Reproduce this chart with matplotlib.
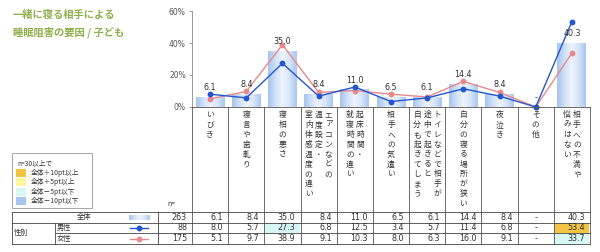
import matplotlib
matplotlib.use("Agg")
import matplotlib.pyplot as plt
import numpy as np
from matplotlib.patches import Rectangle
from matplotlib.colors import LinearSegmentedColormap

plt.rcParams['font.family'] = ['Noto Sans CJK JP', 'DejaVu Sans']

# ---------------- data ----------------
categories = [
    ["いびき"],
    ["寝言や歯軋り"],
    ["寝相の悪さ"],
    ["エアコンなどの", "温度設定・", "室内体感温度の違い"],
    ["起床時間・", "就寝時間の違い"],
    ["相手への気遣い"],
    ["トイレなどで相手が", "途中で起きると", "自分も起きてしまう"],
    ["自分の寝る場所が狭い"],
    ["夜泣き"],
    ["その他"],
    ["相手への不満や", "悩みはない"],
]
total = [6.1, 8.4, 35.0, 8.4, 11.0, 6.5, 6.1, 14.4, 8.4, None, 40.3]
male = [8.0, 5.7, 27.3, 6.8, 12.5, 3.4, 5.7, 11.4, 6.8, None, 53.4]
female = [5.1, 9.7, 38.9, 9.1, 10.3, 8.0, 6.3, 16.0, 9.1, None, 33.7]
n_total, n_male, n_female = 263, 88, 175
yticks = [0, 20, 40, 60]
title_lines = ["一緒に寝る相手による", "睡眠阻害の要因 / 子ども"]
legend_title = "n=30以上で"
legend_items = ["全体＋10pt以上", "全体＋5pt以上", "全体－5pt以下", "全体－10pt以下"]
legend_colors = ["#f3c443", "#fff59b", "#d6f7f4", "#a9c5ef"]

def num(v):
    return 0.0 if v is None else v

def fmt(v):
    return "-" if v is None else f"{v:.1f}"

# ---------------- layout (pixels) ----------------
W, H = 600, 252
X0, X1 = 192, 590
Y0, YTOP = 107, 11
ncat = len(categories)
cw = (X1 - X0) / ncat

fig = plt.figure(figsize=(6, 2.52), dpi=100)
fig.patch.set_facecolor("white")

ax = fig.add_axes([X0 / W, 1 - Y0 / H, (X1 - X0) / W, (Y0 - YTOP) / H])
ax.set_xlim(-0.5, ncat - 0.5)
ax.set_ylim(0, 60)
for s in ["top", "right", "bottom"]:
    ax.spines[s].set_visible(False)
ax.spines["left"].set_color("#888888")
ax.spines["left"].set_linewidth(0.6)
ax.set_xticks([])
ax.set_yticks(yticks)
ax.set_yticklabels([f"{t}%" for t in yticks], fontsize=5.5, color="#555555",
                   family=['DejaVu Sans'])
ax.tick_params(axis="y", length=2.5, width=0.6, color="#888888", pad=2)
ax.patch.set_alpha(0)

x = np.arange(ncat)
tv = [num(v) for v in total]
bars = ax.bar(x, tv, width=0.8, color="none", edgecolor="none", zorder=1)
cmap = LinearSegmentedColormap.from_list(
    "bar", ["#a6c4ee", "#cfe0f8", "#eef4fd", "#d6e5f9", "#a9c7f0"])
grad = np.linspace(0, 1, 64).reshape(1, -1)
for b in bars:
    if b.get_height() <= 0:
        continue
    bx, by = b.get_x(), b.get_y()
    im = ax.imshow(grad, cmap=cmap, aspect="auto",
                   extent=[bx, bx + b.get_width(), by, by + b.get_height()],
                   zorder=1)
    im.set_clip_path(b)
ax.set_xlim(-0.5, ncat - 0.5)
ax.set_ylim(0, 60)

for i, v in enumerate(total):
    ax.annotate(fmt(v), (i, num(v)), xytext=(0, 3.5), textcoords="offset points",
                ha="center", va="bottom", fontsize=5.8, color="#333333",
                family=['DejaVu Sans'], zorder=5)

ax.plot(x, [num(v) for v in female], color="#e8898c", lw=1.0, marker="o",
        ms=3.2, zorder=3, clip_on=False)
ax.plot(x, [num(v) for v in male], color="#2456d0", lw=1.0, marker="o",
        ms=3.2, zorder=4, clip_on=False)

# ---------------- overlay for titles / labels / table ----------------
ov = fig.add_axes([0, 0, 1, 1])
ov.set_xlim(0, W)
ov.set_ylim(H, 0)
ov.axis("off")
ov.patch.set_alpha(0)

title_color = "#8fae4c"
ov.text(13, 15, title_lines[0], fontsize=7.4, color=title_color,
        fontweight="bold", va="center", ha="left")
ov.text(13, 32, title_lines[1], fontsize=7.4, color=title_color,
        fontweight="bold", va="center", ha="left")

lc = "#555555"
lw = 0.6
# category cells
ov.plot([X0, X1], [Y0, Y0], color=lc, lw=lw)
TT, R1, R2, TB = 212, 222.5, 233.3, 244
for k in range(ncat + 1):
    xx = X0 + k * cw
    ov.plot([xx, xx], [Y0, TB], color=lc, lw=lw)

# vertical labels
for i, cols in enumerate(categories):
    cx = X0 + (i + 0.5) * cw
    nc = len(cols)
    for j, col in enumerate(cols):
        xx = cx + (nc - 1) / 2 * 10 - j * 10
        for k, ch in enumerate(col):
            ov.text(xx, 115 + k * 9.9, ch, fontsize=5.6, color="#333333",
                    ha="center", va="center")

# legend box
ov.add_patch(Rectangle((12, 153), 80, 55, fill=False, edgecolor="#999999", lw=0.6))
ov.text(17, 163, legend_title, fontsize=4.8, color="#333333", va="center")
for k, (lab, c) in enumerate(zip(legend_items, legend_colors)):
    yy = 173 + k * 9.3
    ov.add_patch(Rectangle((16, yy - 4), 10, 8, color=c, lw=0))
    ov.text(31, yy, lab, fontsize=4.9, color="#333333", va="center")

# table
ov.text(171, 204, "n=", fontsize=5, color="#333333", ha="center", va="center")
for yy, xa in [(TT, 12), (R1, 12), (R2, 55), (TB, 12)]:
    ov.plot([xa, X1], [yy, yy], color="#444444", lw=lw)
ov.plot([12, 12], [TT, TB], color="#444444", lw=lw)
ov.plot([55, 55], [R1, TB], color="#444444", lw=lw)
ov.plot([157.5, 157.5], [TT, TB], color="#444444", lw=lw)

rows = [(TT, R1, total, n_total), (R1, R2, male, n_male), (R2, TB, female, n_female)]
# highlight cells
for (ya, yb, vals, _) in rows[1:]:
    for i, v in enumerate(vals):
        if v is None or total[i] is None:
            continue
        d = v - total[i]
        c = None
        if d >= 10:
            c = legend_colors[0]
        elif d >= 5:
            c = legend_colors[1]
        elif d <= -10:
            c = legend_colors[3]
        elif d <= -5:
            c = legend_colors[2]
        if c:
            ov.add_patch(Rectangle((X0 + i * cw + 0.5, ya + 0.5), cw - 1, yb - ya - 1,
                                   color=c, lw=0, zorder=0))

for (ya, yb, vals, n) in rows:
    ym = (ya + yb) / 2
    ov.text(X0 - 5, ym, str(n), fontsize=5.8, color="#333333", ha="right",
            va="center", family=['DejaVu Sans'])
    for i, v in enumerate(vals):
        if v is None:
            ov.text(X0 + (i + 0.5) * cw, ym, "-", fontsize=5.8, color="#333333",
                    ha="center", va="center", family=['DejaVu Sans'])
        else:
            ov.text(X0 + (i + 1) * cw - 5, ym, fmt(v), fontsize=5.8, color="#333333",
                    ha="right", va="center", family=['DejaVu Sans'])

ov.text(84, (TT + R1) / 2, "全体", fontsize=5.2, color="#333333", ha="center", va="center")
ov.text(14, (R1 + TB) / 2, "性別", fontsize=5.2, color="#333333", ha="left", va="center")
ov.text(57, (R1 + R2) / 2, "男性", fontsize=5.2, color="#333333", ha="left", va="center")
ov.text(57, (R2 + TB) / 2, "女性", fontsize=5.2, color="#333333", ha="left", va="center")

# row swatches
ov.imshow(grad, cmap=cmap, aspect="auto", extent=[129, 150, 220, 215], zorder=2)
ov.plot([130, 148], [(R1 + R2) / 2] * 2, color="#2456d0", lw=1.0, marker=None)
ov.plot([139], [(R1 + R2) / 2], color="#2456d0", marker="o", ms=3.2)
ov.plot([130, 148], [(R2 + TB) / 2] * 2, color="#e8898c", lw=1.0)
ov.plot([139], [(R2 + TB) / 2], color="#e8898c", marker="o", ms=3.2)
ov.set_xlim(0, W)
ov.set_ylim(H, 0)

fig.savefig("out.png", dpi=100)
